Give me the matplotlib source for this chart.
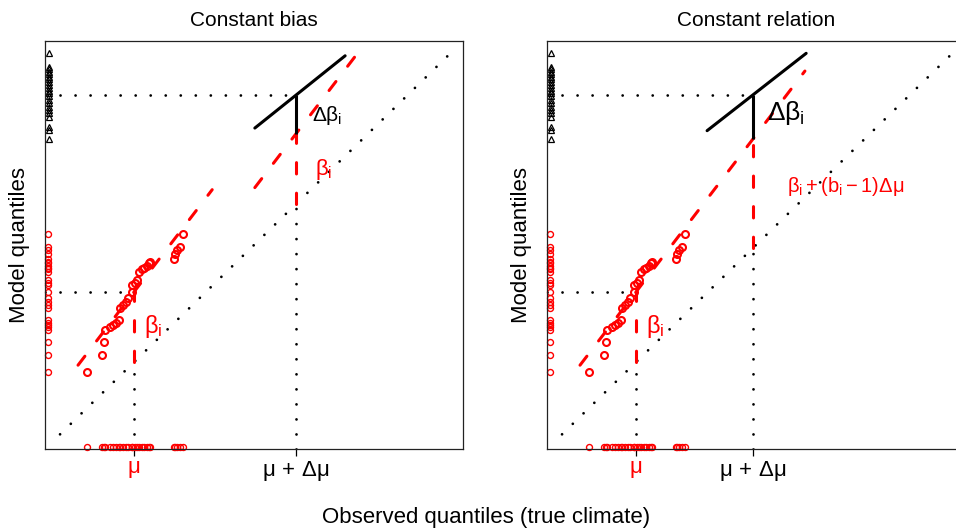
import matplotlib
matplotlib.use('Agg')
import matplotlib.pyplot as plt
import numpy as np

plt.rcParams['font.family'] = ['Liberation Sans', 'DejaVu Sans']
plt.rcParams['mathtext.fontset'] = 'custom'
plt.rcParams['mathtext.rm'] = 'Liberation Sans'
plt.rcParams['mathtext.it'] = 'Liberation Sans'
plt.rcParams['mathtext.bf'] = 'Liberation Sans:bold'
plt.rcParams['mathtext.sf'] = 'Liberation Sans'

# ---- data (quantile units) ----
obs = [10.1, 13.6, 14.0, 14.4, 15.6, 16.3, 17.1, 17.6, 17.9, 18.7, 19.3, 19.9, 20.7, 20.9,
       21.5, 22.0, 22.5, 23.1, 23.7, 24.3, 24.9, 25.2, 30.9, 31.2, 31.6, 32.3, 33.0]
model = [18.9, 23.0, 26.2, 29.1, 29.9, 30.4, 31.0, 31.6, 34.5, 35.3, 36.1, 36.9, 38.6, 40.2,
         40.8, 41.4, 43.5, 44.1, 44.3, 44.9, 45.5, 45.9, 46.5, 47.8, 48.8, 49.5, 52.7]
future = [97.0, 93.7, 93.1, 92.5, 91.8, 91.2, 90.6, 90.0, 89.2, 88.4, 87.8, 87.2, 86.4,
          85.5, 84.7, 83.9, 83.1, 82.3, 81.4, 78.8, 78.2, 75.9]

mu = 21.3
beta = 17.2
b_slope = 1.34
titles = ['Constant bias', 'Constant relation']
delta_mu = [38.7, 28.0]
delta_beta = [9.5, 10.8]
black_slope = [0.82, 0.80]
fit_x_range = [(7.9, 40.0), (7.9, 61.7)]
shift_x_range = [(50.2, 74.2), None]
black_x_range = [(50.2, 71.8), (38.3, 62.0)]
tick_labels = [r'$\mu$', r'$\mu\,+\,\Delta\mu$']
tick_colors = ['red', 'black']

W, H = 956, 532
fig = plt.figure(figsize=(W / 100, H / 100), dpi=100)

DOT = dict(color='black', lw=2.0, linestyle=(0, (0.01, 5.4)), dash_capstyle='round')
DASH = dict(color='red', lw=2.2, linestyle=(0, (3.7, 6.3)), dash_capstyle='round')

lefts = [45, 547]
for k in range(2):
    x0 = lefts[k]
    ax = fig.add_axes([x0 / W, 1 - 449 / H, 418 / W, 408 / H])
    ax.set_xlim(0, 100)
    ax.set_ylim(0, 100)
    for s in ax.spines.values():
        s.set_linewidth(0.9)
        s.set_color('#222222')
    ax.set_yticks([])
    md = mu + delta_mu[k]
    ax.set_xticks([mu, md])
    ax.set_xticklabels(tick_labels, fontsize=16)
    for lab, c in zip(ax.get_xticklabels(), tick_colors):
        lab.set_color(c)
    ax.tick_params(axis='x', length=5, width=0.9, pad=2)
    ax.set_title(titles[k], fontsize=15, pad=11)

    # identity line
    ax.plot([3.6, 97], [3.6, 97], **DOT)
    # reference lines at mu
    y_mu = mu + beta
    ax.plot([mu, mu], [0, mu], **DOT)
    ax.plot([0, mu], [y_mu, y_mu], **DOT)
    ax.plot([mu, mu], [mu, y_mu], **DASH)
    # fitted relation through the QQ points
    fx = np.array(fit_x_range[k])
    ax.plot(fx, y_mu + b_slope * (fx - mu), **DASH)
    # future
    if k == 0:
        y_red = md + beta
        sx = np.array(shift_x_range[k])
        ax.plot(sx, y_red + b_slope * (sx - md), **DASH)
    else:
        y_red = y_mu + b_slope * (md - mu)
    y_top = y_red + delta_beta[k]
    ax.plot([md, md], [0, md], **DOT)
    ax.plot([0, md], [y_top, y_top], **DOT)
    ax.plot([md, md], [md, y_red], **DASH)
    ax.plot([md, md], [y_red, y_top], color='black', lw=2.2, solid_capstyle='butt')
    bx = np.array(black_x_range[k])
    ax.plot(bx, y_top + black_slope[k] * (bx - md), color='black', lw=2.2,
            solid_capstyle='round')

    # QQ points
    ax.plot(sorted(obs), sorted(model), 'o', ms=5.0, mfc='none', mec='red', mew=1.5,
            clip_on=False)
    # rugs
    ax.plot(obs, [0.5] * len(obs), 'o', ms=4.3, mfc='none', mec='red', mew=1.0, clip_on=False)
    ax.plot([0.8] * len(model), model, 'o', ms=4.3, mfc='none', mec='red', mew=1.0,
            clip_on=False)
    ax.plot([1.0] * len(future), future, '^', ms=5.0, mfc='none', mec='black', mew=0.9,
            clip_on=False)

    # annotations
    ax.text(23.6, 30.1, r'$\beta_{i}$', color='red', fontsize=17, ha='left', va='center')
    if k == 0:
        ax.text(63.9, 81.8, r'$\Delta\beta_{i}$', color='black', fontsize=15,
                ha='left', va='center')
        ax.text(64.6, 68.6, r'$\beta_{i}$', color='red', fontsize=16, ha='left', va='center')
    else:
        ax.text(52.6, 82.3, r'$\Delta\beta_{i}$', color='black', fontsize=19,
                ha='left', va='center')
        ax.text(57.4, 64.4, r'$\beta_{i} + (b_{i} - 1)\Delta\mu$', color='red', fontsize=14.5,
                ha='left', va='center')

fig.text(20 / W, 1 - 245 / H, 'Model quantiles', rotation=90, fontsize=16,
         ha='center', va='center')
fig.text(522 / W, 1 - 245 / H, 'Model quantiles', rotation=90, fontsize=16,
         ha='center', va='center')
fig.text(486 / W, 1 - 517 / H, 'Observed quantiles (true climate)', fontsize=16,
         ha='center', va='center')

fig.savefig('out.png', dpi=100)
